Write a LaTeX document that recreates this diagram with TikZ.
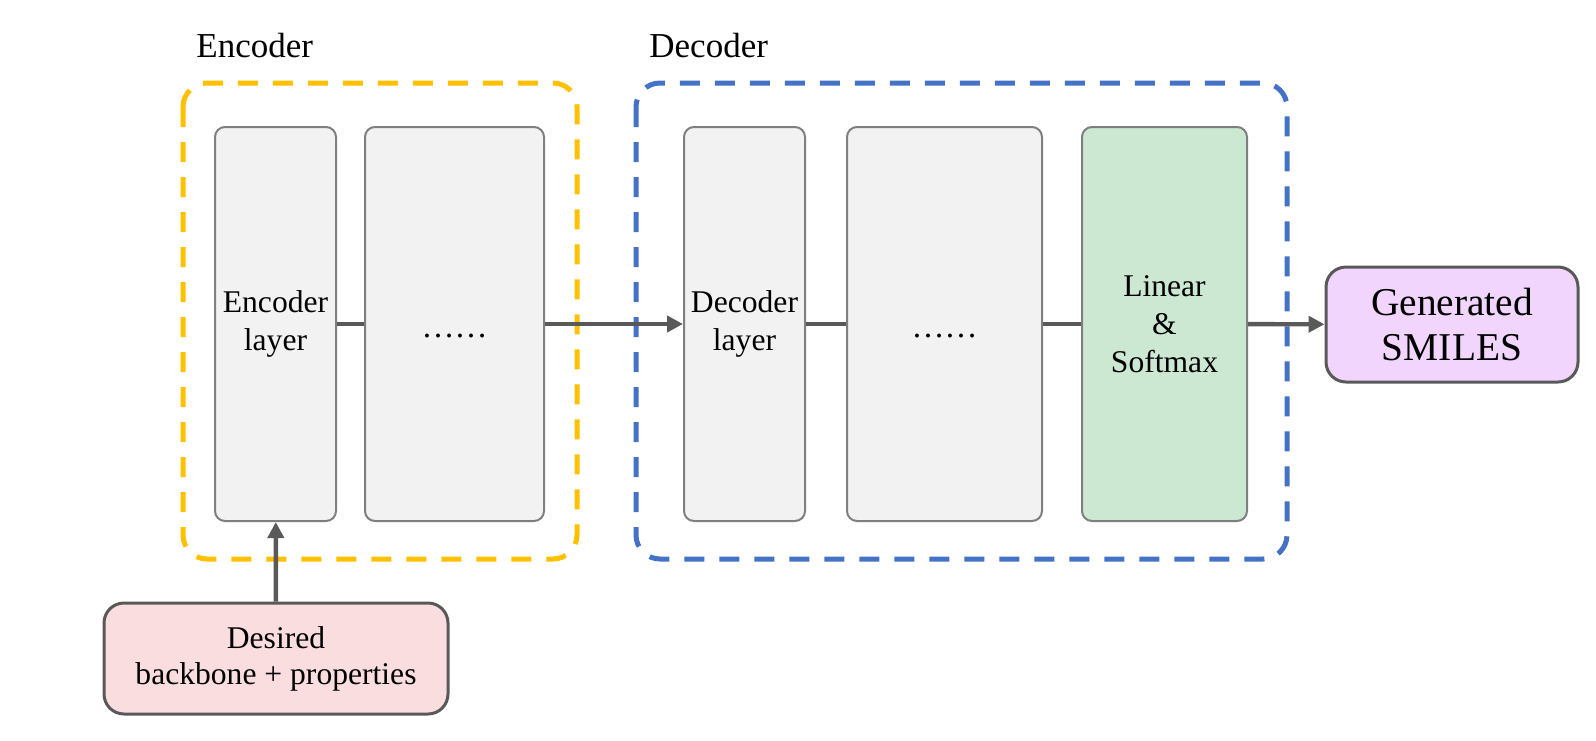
\documentclass[tikz,border=0pt]{standalone}
\usepackage{fontspec}
\setmainfont{Liberation Serif}
\usetikzlibrary{arrows.meta,positioning}
\definecolor{EncGold}{HTML}{FFC000}
\definecolor{DecBlue}{HTML}{4472C4}
\definecolor{LayerFill}{HTML}{F2F2F2}
\definecolor{LayerEdge}{HTML}{7F7F7F}
\definecolor{HeadFill}{HTML}{CCE8D2}
\definecolor{InFill}{HTML}{FADEDF}
\definecolor{OutFill}{HTML}{F1D5FC}
\definecolor{InkGrey}{HTML}{595959}
\tikzset{
  layer/.style={rectangle, rounded corners=5pt, draw=LayerEdge, line width=1pt,
                fill=LayerFill, minimum height=197pt, inner sep=0pt, align=center,
                font=\fontsize{15.8}{19}\selectfont},
  iobox/.style={rectangle, rounded corners=10pt, draw=InkGrey, line width=1.5pt,
                inner sep=0pt, align=center},
  frame/.style={line width=2.5pt, dash pattern=on 10pt off 7.5pt, rounded corners=12pt},
  link/.style={line width=2.2pt, draw=InkGrey},
  flow/.style={link, -{Triangle[length=8pt,width=8pt]}},
  title/.style={font=\fontsize{17.5}{21}\selectfont, anchor=base west, inner sep=0pt},
}
\newcommand{\layerdots}{\raisebox{-6.5pt}[0pt][0pt]{\fontsize{16.5}{20}\selectfont ……}}
\begin{document}
\begin{tikzpicture}[x=0.5pt, y=-0.5pt]
\useasboundingbox (0,0) rectangle (1596,740);
% containers
\draw[frame, draw=EncGold] (183,83) rectangle (577,559);
\draw[frame, draw=DecBlue] (636,83) rectangle (1287,559);
\node[title] (enctitle) at (196,57) {Encoder};
\node[title] (dectitle) at (649,57) {Decoder};
% layers
\node[layer, minimum width=60.5pt] (enclayer) at (275.5,324) {Encoder\\layer};
\node[layer, minimum width=89.5pt] (encdots) at (454.5,324) {\layerdots};
\node[layer, minimum width=60.5pt] (declayer) at (744.5,324) {Decoder\\layer};
\node[layer, minimum width=97.5pt] (decdots) at (944.5,324) {\layerdots};
\node[layer, minimum width=82.5pt, fill=HeadFill] (head) at (1164.5,324) {Linear\\\&\\Softmax};
% input and output
\node[iobox, fill=InFill, minimum width=172pt, minimum height=55.5pt,
      font=\fontsize{15.8}{18}\selectfont] (desired) at (276,658.5) {Desired\\backbone + properties};
\node[iobox, fill=OutFill, minimum width=126pt, minimum height=57.5pt,
      font=\fontsize{19.7}{22.5}\selectfont] (smiles) at (1452,324.5) {Generated\\SMILES};
% connectors
\draw[link] (enclayer) -- (encdots);
\draw[flow] (encdots) -- (declayer);
\draw[link] (declayer) -- (decdots);
\draw[link] (decdots) -- (head);
\draw[flow] (head) -- (smiles);
\draw[flow] (desired) -- (enclayer);
\end{tikzpicture}
\end{document}
